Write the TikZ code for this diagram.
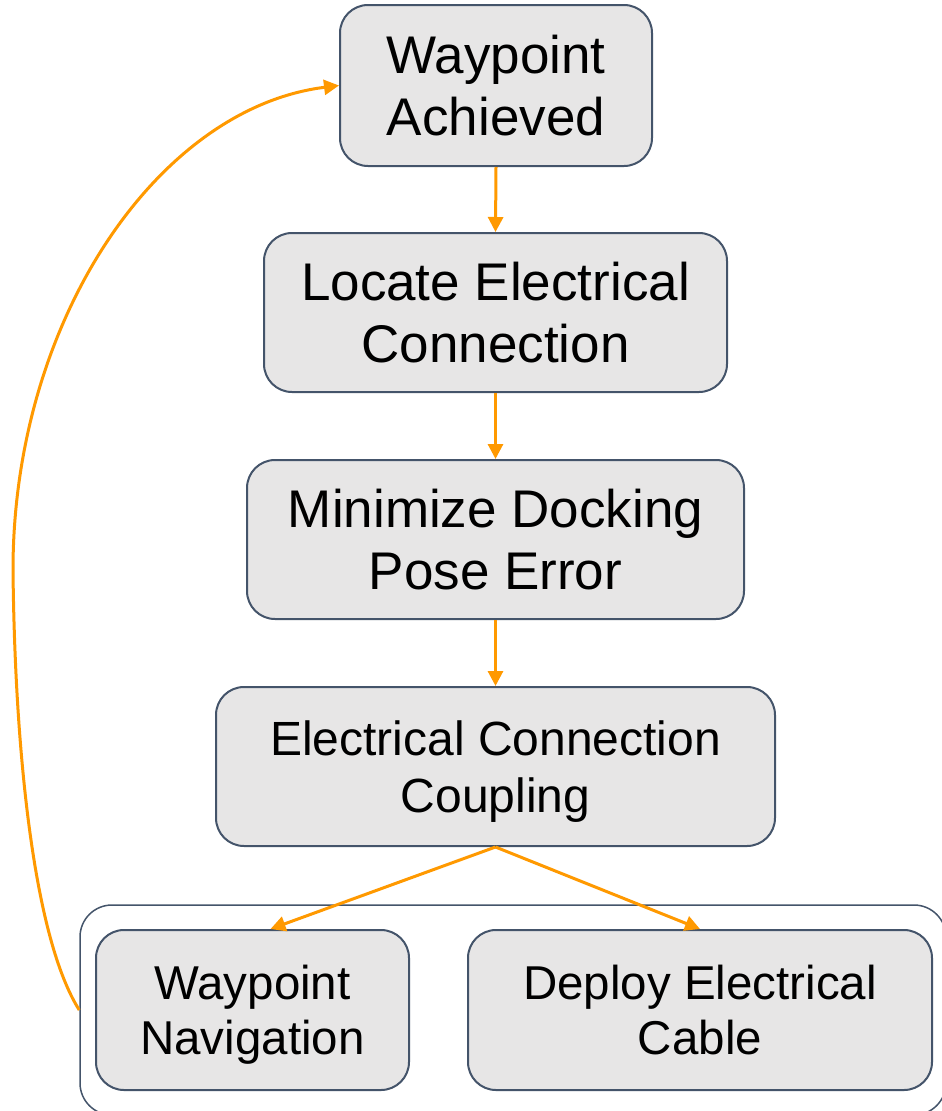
\documentclass[tikz,border=0pt]{standalone}
\usepackage{fontspec}
\setmainfont{Liberation Sans}
\usetikzlibrary{arrows.meta}
\definecolor{boxfill}{HTML}{E7E6E6}
\definecolor{boxline}{HTML}{44546A}
\definecolor{flow}{HTML}{FF9900}
\begin{document}
\begin{tikzpicture}[x=1pt, y=-1pt,
	stepbox/.style={draw=boxline, fill=boxfill, line width=2pt, rounded corners=28pt, align=center, inner sep=0pt, text depth=0pt},
	bigtext/.style={font=\fontsize{53}{62}\selectfont},
	midtext/.style={font=\fontsize{48}{57}\selectfont},
	smalltext/.style={font=\fontsize{47.5}{55}\selectfont},
	flowarrow/.style={draw=flow, line width=3pt, -{Triangle[length=15pt, width=15pt]}}]
	\useasboundingbox (0,0) rectangle (942,1111);
	
	%Gruppe unten
	\node[draw=boxline, fill=white, line width=1.5pt, rounded corners=32pt, minimum width=866pt, minimum height=210pt] (grp) at (513,1010) {};
	
	%Ablauf
	\node[stepbox, bigtext, minimum width=312pt, minimum height=161pt] (wa) at (496,85.5) {Waypoint\\Achieved};
	\node[stepbox, bigtext, minimum width=463pt, minimum height=159pt] (lec) at (495.5,312.5) {Locate Electrical\\Connection};
	\node[stepbox, bigtext, minimum width=497pt, minimum height=159pt] (mdp) at (495.5,539.5) {Minimize Docking\\Pose Error};
	\node[stepbox, midtext, minimum width=559pt, minimum height=159pt] (ecc) at (495.5,766.5) {Electrical Connection\\Coupling};
	\node[stepbox, smalltext, minimum width=313pt, minimum height=160pt] (wn) at (252.5,1010) {Waypoint\\Navigation};
	\node[stepbox, smalltext, minimum width=464pt, minimum height=160pt] (dec) at (700,1010) {Deploy Electrical\\Cable};
	
	%Pfeile
	\draw[flowarrow] (wa.south) -- (lec.north);
	\draw[flowarrow] (lec.south) -- (mdp.north);
	\draw[flowarrow] (mdp.south) -- (ecc.north);
	\draw[flowarrow] (ecc.south) -- ([xshift=18pt]wn.north);
	\draw[flowarrow] (ecc.south) -- (dec.north);
	
	%Rueckfuehrung
	\draw[flowarrow] (grp.west) .. controls (35,940) and (15,760) .. (13,570) .. controls (13,320) and (158,108) .. (wa.west);
\end{tikzpicture}
\end{document}
